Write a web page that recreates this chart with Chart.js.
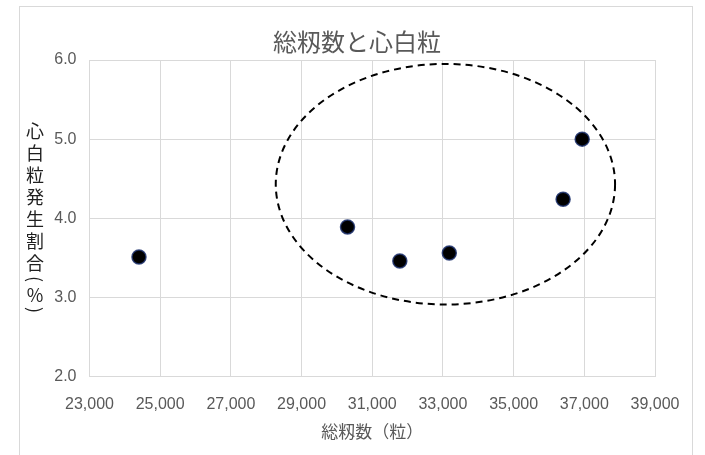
<!DOCTYPE html>
<html>
<head>
<meta charset="utf-8">
<script src="https://cdn.jsdelivr.net/npm/chart.js@4/dist/chart.umd.min.js"></script>
<style>
  html, body { margin: 0; padding: 0; background: #ffffff; }
  #wrap { position: relative; width: 705px; height: 455px; }
</style>
</head>
<body>
<div id="wrap"><canvas id="c" width="705" height="455"></canvas></div>
<script>
// Total spikelet count per plot vs. white-core grain rate
const totalGrains = [24400, 30300, 31780, 33180, 36400, 36940];
const chalkyRate  = [3.51, 3.89, 3.46, 3.56, 4.24, 5.00];

const xTickValues = [23000, 25000, 27000, 29000, 31000, 33000, 35000, 37000, 39000];
const yTickValues = [2.0, 3.0, 4.0, 5.0, 6.0];

// Dashed ring around the high-count group (centre and radii in data units)
const groupCenter = [33070, 4.43];
const groupRadius = [4800, 1.52];

const chartTitle = '総籾数と心白粒';
const xAxisTitle = '総籾数（粒）';
const yAxisTitleChars = ['心', '白', '粒', '発', '生', '割', '合', '(', '%', ')'];

const TICK_FONT = "'Liberation Sans', Arial, sans-serif";
const CJK_FONT = "'Noto Sans CJK JP', 'Noto Sans', sans-serif";
const GRID = '#d9d9d9';
const TEXT = '#595959';

const decorations = {
  id: 'decorations',
  beforeDraw(chart) {
    const ctx = chart.ctx;
    ctx.save();
    ctx.fillStyle = '#ffffff';
    ctx.fillRect(0, 0, chart.width, chart.height);
    ctx.strokeStyle = GRID;
    ctx.lineWidth = 1;
    ctx.strokeRect(19.5, 6.5, 673, 460);
    ctx.restore();
  },
  afterDatasetsDraw(chart) {
    const ctx = chart.ctx;
    const xs = chart.scales.x, ys = chart.scales.y;
    const cx = xs.getPixelForValue(groupCenter[0]);
    const cy = ys.getPixelForValue(groupCenter[1]);
    const rx = Math.abs(xs.getPixelForValue(groupCenter[0] + groupRadius[0]) - cx);
    const ry = Math.abs(ys.getPixelForValue(groupCenter[1] + groupRadius[1]) - cy);
    ctx.save();
    ctx.strokeStyle = '#000000';
    ctx.lineWidth = 2;
    ctx.setLineDash([7, 5]);
    ctx.beginPath();
    ctx.ellipse(cx, cy, rx, ry, 0, 0, Math.PI * 2);
    ctx.stroke();
    ctx.restore();
  },
  afterDraw(chart) {
    const ctx = chart.ctx;
    const area = chart.chartArea;
    ctx.save();
    // chart title
    ctx.fillStyle = TEXT;
    ctx.textAlign = 'center';
    ctx.textBaseline = 'middle';
    ctx.font = `24px ${CJK_FONT}`;
    ctx.fillText(chartTitle, 357, 42);
    // x axis title
    ctx.font = `17px ${CJK_FONT}`;
    ctx.fillText(xAxisTitle, (area.left + area.right) / 2, 432);
    // y axis title, one character per line; brackets turned sideways
    ctx.fillStyle = '#1f1f1f';
    ctx.font = `18px ${CJK_FONT}`;
    const offsets = [0, 22, 44, 66, 88, 110, 132, 148, 164, 179];
    const top = 131, cx = 35;
    yAxisTitleChars.forEach((ch, i) => {
      const y = top + offsets[i];
      if (ch === '(' || ch === ')') {
        ctx.save();
        ctx.translate(cx, y);
        ctx.rotate(Math.PI / 2);
        ctx.fillText(ch, 0, 0);
        ctx.restore();
      } else {
        ctx.fillText(ch, cx, y);
      }
    });
    ctx.restore();
  }
};

new Chart(document.getElementById('c'), {
  type: 'scatter',
  data: {
    datasets: [{
      data: totalGrains.map((v, i) => ({ x: v, y: chalkyRate[i] })),
      pointRadius: 7,
      pointHoverRadius: 7,
      pointBackgroundColor: '#000000',
      pointBorderColor: 'rgba(30, 50, 110, 0.85)',
      pointBorderWidth: 1.5
    }]
  },
  options: {
    responsive: false,
    animation: false,
    devicePixelRatio: 1,
    layout: { padding: { top: 60, right: 50, bottom: 0, left: 0 } },
    plugins: {
      legend: { display: false },
      title: { display: false },
      tooltip: { enabled: false }
    },
    scales: {
      x: {
        type: 'linear',
        min: 23000,
        max: 39000,
        afterBuildTicks: s => { s.ticks = xTickValues.map(v => ({ value: v })); },
        afterFit: s => { s.height = 78.5; },
        grid: { color: GRID, lineWidth: 1, drawTicks: false },
        border: { color: GRID },
        ticks: {
          color: TEXT,
          font: { family: TICK_FONT, size: 16 },
          padding: 18,
          maxRotation: 0,
          callback: v => v.toLocaleString('en-US')
        }
      },
      y: {
        min: 2,
        max: 6,
        afterBuildTicks: s => { s.ticks = yTickValues.map(v => ({ value: v })); },
        afterFit: s => { s.width = 89.5; },
        grid: { color: GRID, lineWidth: 1, drawTicks: false },
        border: { color: GRID },
        ticks: {
          color: TEXT,
          font: { family: TICK_FONT, size: 16 },
          padding: 13,
          callback: v => Number(v).toFixed(1)
        }
      }
    }
  },
  plugins: [decorations]
});
</script>
</body>
</html>
